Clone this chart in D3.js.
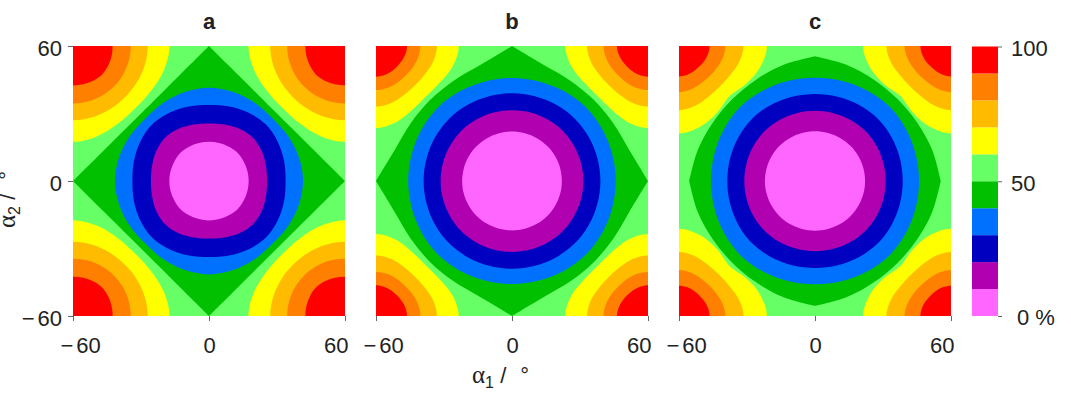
<!DOCTYPE html>
<html>
<head>
<meta charset="utf-8">
<script src="https://cdn.jsdelivr.net/npm/d3@7"></script>
<style>
body { margin: 0; background: #fff; }
text { font-family: "Liberation Sans", Arial, sans-serif; fill: #222; }
</style>
</head>
<body>
<div class="chart"></div>
<script>
// band colours, lowest band (0-10 %) first
const bandColours = ["#ff66ff", "#b000b0", "#0000c0", "#0070ff", "#00c000",
                     "#66ff66", "#ffff00", "#ffbb00", "#ff7f00", "#ff0000"]
const levels = [0, 10, 20, 30, 40, 50, 60, 70, 80, 90, 100]
const panelNames = ["a", "b", "c"]
const axisTicks = [-60, 0, 60]
const barTicks = [0, 50, 100]
const barTickLabels = ["0 %", "50", "100"]

const sampleAngles = [0, 15, 30, 45]

// radius from (0,0) of the 10, 20, 30, 40 and 50 % contours
const innerA = [
  [17.5, 17.5, 17.6, 17.8],
  [25.6, 26.0, 26.8, 27.3],
  [33.8, 34.3, 35.0, 35.5],
  [41.5, 41.0, 40.2, 39.5],
  [60.0, 49.0, 43.9, 42.4]
]
const innerB = [
  [22.0, 22.0, 22.0, 22.0],
  [31.5, 31.5, 31.5, 31.6],
  [39.0, 39.0, 39.1, 39.2],
  [45.8, 45.8, 46.0, 46.2],
  [60.0, 53.5, 51.5, 51.0]
]
const innerC = [
  [22.1, 22.1, 22.1, 22.1],
  [31.2, 31.2, 31.3, 31.4],
  [38.7, 38.8, 39.0, 39.2],
  [45.9, 46.0, 46.3, 46.6],
  [55.5, 53.5, 52.0, 51.5]
]
// radius from the nearest corner of the 60, 70, 80 and 90 % contours
// (angle measured from the panel edge towards the diagonal)
const cornerA = [
  [42.6, 41.5, 39.8, 39.0],
  [33.0, 32.8, 32.5, 32.3],
  [25.5, 25.5, 25.5, 25.5],
  [17.5, 17.6, 17.8, 18.0]
]
const cornerB = [
  [36.5, 35.0, 32.5, 31.5],
  [26.9, 26.2, 25.0, 24.5],
  [19.6, 19.3, 18.8, 18.5],
  [13.7, 13.5, 13.2, 13.0]
]
const cornerC = [
  [38.8, 37.0, 34.0, 31.5],
  [28.5, 27.5, 26.0, 25.5],
  [20.5, 20.0, 19.3, 19.0],
  [13.5, 13.3, 13.0, 12.8]
]

const svg = d3.select(".chart").append("svg").attr("width", 1071).attr("height", 395)
const panelLeft = [73, 376, 679]
const panelWidth = 272
const plotTop = 46, plotBottom = 316
const fontSize = 22
const rad = Math.PI / 180

const bandColour = d3.scaleThreshold().domain(levels.slice(1, -1)).range(bandColours)

// contours are symmetric, so fold any angle back into 0..45
function foldRadius(radii, angle) {
  let a = ((angle % 90) + 90) % 90
  if (a > 45) a = 90 - a
  return radii[sampleAngles.indexOf(a)]
}
function polar(radii, t) {
  const r = foldRadius(radii, t)
  return [r * Math.cos(t * rad), r * Math.sin(t * rad)]
}

function drawPanel(i, inner, corner) {
  const x = d3.scaleLinear().domain([-60, 60]).range([panelLeft[i], panelLeft[i] + panelWidth])
  const y = d3.scaleLinear().domain([-60, 60]).range([plotBottom, plotTop])
  const g = svg.append("g")

  g.append("clipPath").attr("id", "clip" + i).append("rect")
    .attr("x", x(-60)).attr("y", y(60)).attr("width", x(60) - x(-60)).attr("height", y(-60) - y(60))
  const area = g.append("g").attr("clip-path", `url(#clip${i})`)

  // 50-60 % band fills the background
  area.append("rect").attr("x", x(-60)).attr("y", y(60))
      .attr("width", x(60) - x(-60)).attr("height", y(-60) - y(60))
      .attr("fill", bandColour(55))

  const smooth = d3.line().x(d => x(d[0])).y(d => y(d[1])).curve(d3.curveCatmullRom.alpha(0.5))
  const smoothClosed = d3.line().x(d => x(d[0])).y(d => y(d[1])).curve(d3.curveCatmullRomClosed.alpha(0.5))

  // corner regions, 60 % first, 90 % last
  const corners = [[1, 1], [-1, 1], [-1, -1], [1, -1]]
  corner.forEach((radii, k) => {
    const lev = levels[6 + k]
    corners.forEach(([sx, sy]) => {
      const pts = d3.range(-15, 106, 15).map(p => {
        const r = foldRadius(radii, p)
        return [sx * (60 - r * Math.cos(p * rad)), sy * (60 - r * Math.sin(p * rad))]
      })
      const d = smooth(pts) + `L${x(sx * 80)},${y(sy * 80)}Z`
      area.append("path").attr("d", d).attr("fill", bandColour(lev + 5))
    })
  })

  // centre regions, 50 % first, 10 % last
  for (let k = inner.length - 1; k >= 0; k--) {
    const radii = inner[k]
    let d
    if (k == 4) {
      // the 50 % contour has pointed tips on the axes: one smooth piece per quadrant
      d = [0, 90, 180, 270].map((q, j) => {
        const s = smooth(d3.range(q, q + 91, 15).map(t => polar(radii, t)))
        return j == 0 ? s : "L" + s.slice(1)
      }).join("") + "Z"
    } else {
      d = smoothClosed(d3.range(0, 360, 15).map(t => polar(radii, t)))
    }
    area.append("path").attr("d", d).attr("fill", bandColour(levels[k + 1] - 5))
  }

  // panel letter
  g.append("text").attr("x", x(0)).attr("y", 29).attr("text-anchor", "middle")
   .attr("font-weight", "bold").attr("font-size", fontSize).text(panelNames[i])

  const xAxis = g.append("g").attr("transform", `translate(0,${plotBottom})`)
    .call(d3.axisBottom(x).tickValues(axisTicks).tickSize(5).tickPadding(16))
  styleAxis(xAxis)
  xAxis.selectAll("text")
    .attr("text-anchor", d => d < 0 ? "start" : d > 0 ? "end" : "middle")
    .attr("x", d => d < 0 ? -13 : d > 0 ? 3 : 0)

  if (i == 0) {
    const yAxis = g.append("g").attr("transform", `translate(${x(-60)},0)`)
      .call(d3.axisLeft(y).tickValues(axisTicks).tickSize(5).tickPadding(6))
    styleAxis(yAxis)
    yAxis.selectAll("text").attr("dy", "0.45em")
  }
}

function styleAxis(a) {
  a.select(".domain").remove()
  a.selectAll("line").attr("stroke", "#666")
  a.selectAll("text").attr("font-size", fontSize)
   .attr("font-family", "Liberation Sans, Arial, sans-serif").attr("fill", "#222")
  // a little room after the minus sign, as in the original
  a.selectAll("text").filter(d => d < 0).each(function(d) {
    const t = d3.select(this).text(null)
    t.append("tspan").text("−")
    t.append("tspan").attr("dx", 3).text(Math.abs(d))
  })
}

drawPanel(0, innerA, cornerA)
drawPanel(1, innerB, cornerB)
drawPanel(2, innerC, cornerC)

// colour bar
const barX = 972, barW = 26
const barY = d3.scaleLinear().domain([0, 100]).range([plotBottom, plotTop + 0.5])
svg.append("g").selectAll("rect").data(bandColours).enter().append("rect")
   .attr("x", barX).attr("width", barW)
   .attr("y", (d, i) => barY(levels[i + 1]))
   .attr("height", (d, i) => barY(levels[i]) - barY(levels[i + 1]))
   .attr("fill", d => d)
const barAxis = svg.append("g").attr("transform", `translate(${barX + barW},0)`)
  .call(d3.axisRight(barY).tickValues(barTicks).tickSize(4).tickPadding(9)
          .tickFormat((d, i) => barTickLabels[i]))
styleAxis(barAxis)
barAxis.selectAll("text").attr("dy", "0.4em").attr("dx", d => d == 0 ? 6 : 0)

// axis titles
const xTitle = svg.append("text").attr("x", 472).attr("y", 383).attr("font-size", fontSize)
xTitle.append("tspan").attr("font-family", "Liberation Serif, serif").attr("font-size", 25).text("α")
xTitle.append("tspan").attr("font-size", 16).attr("dy", 5).text("1")
xTitle.append("tspan").attr("dy", -5).text(" / ")
xTitle.append("tspan").attr("dx", 8).text("°")

const yTitle = svg.append("text").attr("transform", "translate(15,228) rotate(-90)").attr("font-size", fontSize)
yTitle.append("tspan").attr("font-family", "Liberation Serif, serif").attr("font-size", 25).text("α")
yTitle.append("tspan").attr("font-size", 16).attr("dy", 5).text("2")
yTitle.append("tspan").attr("dy", -5).text(" / ")
yTitle.append("tspan").attr("dx", 8).text("°")
</script>
</body>
</html>
